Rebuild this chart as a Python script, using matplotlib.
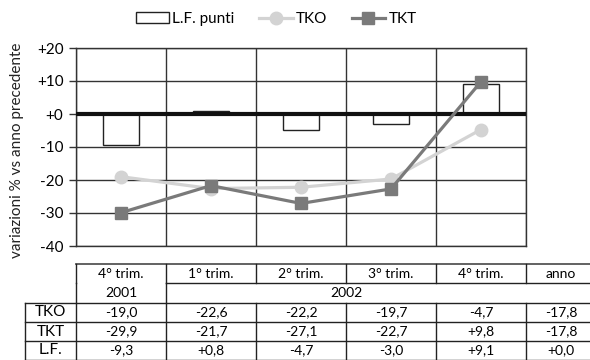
import matplotlib
matplotlib.use("Agg")
import matplotlib.pyplot as plt
from matplotlib.lines import Line2D
from matplotlib.patches import Patch

plt.rcParams['font.family'] = ['Lato', 'DejaVu Sans']

categories = ["4° trim.", "1° trim.", "2° trim.", "3° trim.", "4° trim."]
table_cols = ["4° trim.", "1° trim.", "2° trim.", "3° trim.", "4° trim.", "anno"]
years = ["2001", "2002"]
tko = [-19.0, -22.6, -22.2, -19.7, -4.7]
tkt = [-29.9, -21.7, -27.1, -22.7, 9.8]
lf = [-9.3, 0.8, -4.7, -3.0, 9.1]
tko_tab = ["-19,0", "-22,6", "-22,2", "-19,7", "-4,7", "-17,8"]
tkt_tab = ["-29,9", "-21,7", "-27,1", "-22,7", "+9,8", "-17,8"]
lf_tab = ["-9,3", "+0,8", "-4,7", "-3,0", "+9,1", "+0,0"]
row_labels = ["TKO", "TKT", "L.F."]
yticks = [20, 10, 0, -10, -20, -30, -40]
ytick_labels = ["+20", "+10", "+0", "-10", "-20", "-30", "-40"]

W, H = 590, 360
fig = plt.figure(figsize=(W / 100, H / 100), dpi=100)

# main plot axes (pixel layout)
L, R, T, B = 76, 526, 48, 246
ax = fig.add_axes([L / W, 1 - B / H, (R - L) / W, (B - T) / H])
x = list(range(len(categories)))
ax.set_xlim(-0.5, len(categories) - 0.5)
ax.set_ylim(-40, 20)
gridc = "#333333"
for yv in yticks:
    ax.axhline(yv, color=gridc, lw=1.0, zorder=1)
for i in range(len(categories) + 1):
    ax.axvline(i - 0.5, color=gridc, lw=1.0, zorder=1)
ax.bar(x, lf, width=0.4, color="white", edgecolor="#222222", lw=1.0, zorder=2)
ax.axhline(0, color="#111111", lw=3.0, zorder=3)
ax.plot(x, tko, color="#d3d3d3", lw=2.3, marker="o", ms=9, zorder=4)
ax.plot(x, tkt, color="#7a7a7a", lw=2.3, marker="s", ms=8, zorder=5)
ax.set_xticks([])
ax.set_yticks(yticks)
ax.set_yticklabels(ytick_labels, fontsize=11)
ax.tick_params(axis='y', length=5, width=1, color=gridc, pad=4)
for s in ax.spines.values():
    s.set_color(gridc)
    s.set_linewidth(1.0)
fig.text(17 / W, 1 - 150 / H, "variazioni % vs anno precedente", rotation=90,
         ha="center", va="center", fontsize=11, color="#222222")

# legend
handles = [
    Patch(facecolor="white", edgecolor="#222222", lw=1.0),
    Line2D([], [], color="#d3d3d3", lw=2.3, marker="o", ms=9),
    Line2D([], [], color="#7a7a7a", lw=2.3, marker="s", ms=8),
]
fig.legend(handles, ["L.F. punti", "TKO", "TKT"], loc="center",
           bbox_to_anchor=(0.468, 1 - 19 / H), ncol=3, frameon=False,
           fontsize=11, handlelength=2.2, handletextpad=0.2,
           columnspacing=1.6)

# table in pixel coordinates
tx = fig.add_axes([0, 0, 1, 1])
tx.set_xlim(0, W)
tx.set_ylim(H, 0)
tx.axis("off")
col_edges = [76, 166, 256, 346, 436, 526, 596]
label_left = 25
rows = [264, 283, 303, 322, 341, 359.5]
lc = "#222222"
lw = 1.0
# header row lines
tx.plot([col_edges[0], col_edges[-1]], [rows[0], rows[0]], color="#555555", lw=1.3)
tx.plot([col_edges[1], col_edges[-1]], [rows[1], rows[1]], color=lc, lw=lw)
for e in col_edges:
    tx.plot([e, e], [rows[0], rows[1]], color=lc, lw=lw)
for e in [col_edges[0], col_edges[1]]:
    tx.plot([e, e], [rows[1], rows[2]], color=lc, lw=lw)
# data rows
for r in rows[2:]:
    tx.plot([label_left, col_edges[-1]], [r, r], color=lc, lw=lw)
for e in [label_left] + col_edges:
    tx.plot([e, e], [rows[2], rows[-1]], color=lc, lw=lw)

centers = [(col_edges[i] + col_edges[i + 1]) / 2 for i in range(len(col_edges) - 1)]
fs = 10
for c, lab in zip(centers, table_cols):
    tx.text(c, (rows[0] + rows[1]) / 2, lab, ha="center", va="center", fontsize=fs)
tx.text(centers[0], (rows[1] + rows[2]) / 2, years[0], ha="center", va="center", fontsize=fs)
tx.text((col_edges[1] + col_edges[-2]) / 2, (rows[1] + rows[2]) / 2, years[1],
        ha="center", va="center", fontsize=fs)
for ri, (name, vals) in enumerate(zip(row_labels, [tko_tab, tkt_tab, lf_tab])):
    yc = (rows[2 + ri] + rows[3 + ri]) / 2
    tx.text((label_left + col_edges[0]) / 2, yc, name, ha="center", va="center", fontsize=fs + 1)
    for c, v in zip(centers, vals):
        tx.text(c, yc, v, ha="center", va="center", fontsize=fs)

fig.savefig("out.png", dpi=100)
